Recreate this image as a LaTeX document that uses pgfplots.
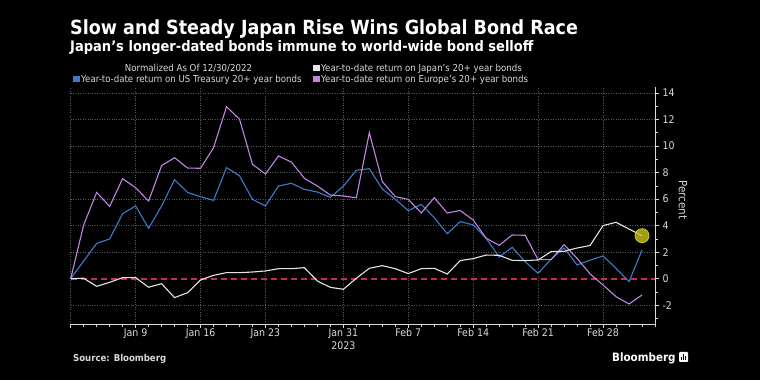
\documentclass[border=0pt]{standalone}
\usepackage{fontspec}
\setmainfont{DejaVu Sans Condensed}
\usepackage{pgfplots}
\usepackage{pgfplotstable}
\pgfplotsset{compat=1.18}
\definecolor{jp}{HTML}{E6E6E6}
\definecolor{us}{HTML}{3A7DC9}
\definecolor{eu}{HTML}{C285E3}
\definecolor{zero}{HTML}{C2304C}
\definecolor{gridc}{HTML}{5A5A5A}
\definecolor{txt}{HTML}{D9D9D9}
\definecolor{hl}{HTML}{C9C21E}
\pgfplotstableread{
x jp us eu
0 0 0 0
1 0.03 1.33 4.05
2 -0.58 2.66 6.5
3 -0.28 2.99 5.45
4 0.08 4.9 7.54
5 0.08 5.48 6.86
6 -0.65 3.79 5.85
7 -0.38 5.48 8.52
8 -1.43 7.46 9.12
9 -1.06 6.5 8.34
10 -0.1 6.18 8.32
11 0.25 5.9 9.87
12 0.45 8.37 12.96
13 0.45 7.76 12.03
14 0.5 5.98 8.62
15 0.58 5.48 7.89
16 0.75 6.98 9.25
17 0.75 7.19 8.79
18 0.83 6.73 7.56
19 -0.18 6.53 6.98
20 -0.66 6.13 6.3
21 -0.8 6.98 6.23
22 0.03 8.17 6.1
23 0.78 8.29 11.0
24 0.98 6.76 7.31
25 0.75 5.98 6.18
26 0.38 5.13 5.98
27 0.75 5.6 4.95
28 0.78 4.6 6.1
29 0.35 3.39 4.95
30 1.36 4.3 5.14
31 1.51 4.05 4.42
32 1.78 3.04 3.04
33 1.76 1.63 2.51
34 1.38 2.36 3.29
35 1.36 1.28 3.27
36 1.41 0.4 1.43
37 2.04 1.48 1.43
38 2.06 2.31 2.56
39 2.31 1.03 1.53
40 2.5 1.4 0.35
41 4.0 1.71 -0.48
42 4.25 0.78 -1.36
43 3.74 -0.23 -1.91
44 3.24 2.16 -1.23
}\data
\begin{document}
\begin{tikzpicture}
\useasboundingbox (0pt,0pt) rectangle (760pt,380pt);
\fill[black] (0pt,0pt) rectangle (760pt,380pt);
% titles
\node[anchor=base west, inner sep=0pt, white, font=\fontsize{19.5}{22}\selectfont\bfseries] at (70pt,345pt) {Slow and Steady Japan Rise Wins Global Bond Race};
\node[anchor=base west, inner sep=0pt, white, font=\fontsize{14.5}{17}\selectfont\bfseries] at (70pt,328pt) {Japan's longer-dated bonds immune to world-wide bond selloff};
% legend
\begin{scope}[font=\fontsize{9.6}{11}\selectfont]
\node[anchor=base, inner sep=0pt, txt] at (188.5pt,308.5pt) {Normalized As Of 12/30/2022};
\fill[jp] (313pt,308.5pt) rectangle (319.5pt,315pt);
\node[anchor=base west, inner sep=0pt, txt] at (321pt,308.5pt) {Year-to-date return on Japan's 20+ year bonds};
\fill[us] (73pt,297.5pt) rectangle (79.5pt,304pt);
\node[anchor=base west, inner sep=0pt, txt] at (81pt,297.5pt) {Year-to-date return on US Treasury 20+ year bonds};
\fill[eu] (313pt,297.5pt) rectangle (319.5pt,304pt);
\node[anchor=base west, inner sep=0pt, txt] at (321pt,297.5pt) {Year-to-date return on Europe's 20+ year bonds};
\end{scope}
\begin{axis}[
  at={(70.7pt,56pt)}, anchor=south west, scale only axis,
  width=584.3pt, height=237pt,
  xmin=0, xmax=45, ymin=-3.42, ymax=14.45,
  axis x line*=bottom, axis y line*=right,
  axis line style={color=txt, line width=0.6pt},
  xtick={0,5,10,15,21,26,31,36,41},
  xticklabels={,Jan 9,Jan 16,Jan 23,Jan 31,Feb 7,Feb 14,Feb 21,Feb 28},
  minor xtick={0,...,45},
  ytick={-2,2,4,...,14}, extra y ticks={0}, extra y tick style={grid=none},
  minor ytick={-3,-1,...,13},
  grid=major, major grid style={gridc, dotted, line width=0.6pt},
  minor grid style={draw=none},
  tick style={txt, line width=0.6pt}, major tick length=4pt, minor tick length=2.5pt,
  tick align=outside,
  ticklabel style={font=\fontsize{10.5}{12}\selectfont, color=txt},
  xticklabel style={yshift=3pt},
  /pgf/number format/assume math mode=true,
  clip=false,
]
\addplot[zero, line width=2pt, dash pattern=on 6pt off 4pt] coordinates {(0,0) (45,0)};
\addplot[us, line width=1.1pt] table[x=x,y=us]{\data};
\addplot[eu, line width=1.1pt] table[x=x,y=eu]{\data};
\addplot[jp, line width=1.1pt] table[x=x,y=jp]{\data};
\addplot[only marks, mark=*, mark size=7pt, mark options={draw=hl!80!yellow, fill=hl, fill opacity=0.8, line width=0.8pt}] coordinates {(44,3.24)};
\node[anchor=base, txt, font=\fontsize{10.5}{12}\selectfont, inner sep=0pt] at (axis cs:21,-3.42) [yshift=-25pt] {2023};
\end{axis}
\node[rotate=-90, txt, font=\fontsize{11.5}{13}\selectfont, inner sep=0pt] at (683pt,180pt) {Percent};
% source and logo
\node[anchor=base west, inner sep=0pt, txt, font=\fontsize{9.5}{11}\selectfont\bfseries] at (73pt,19pt) {Source: Bloomberg};
\node[anchor=base west, inner sep=0pt, white, font=\fontsize{11.5}{13}\selectfont\bfseries] at (612pt,19pt) {Bloomberg};
\fill[white, rounded corners=1pt] (679pt,18pt) rectangle (688pt,28pt);
\fill[black] (681pt,20pt) rectangle (682pt,23pt);
\fill[black] (683pt,20pt) rectangle (684pt,26pt);
\fill[black] (685pt,20pt) rectangle (686pt,24pt);
\end{tikzpicture}
\end{document}
